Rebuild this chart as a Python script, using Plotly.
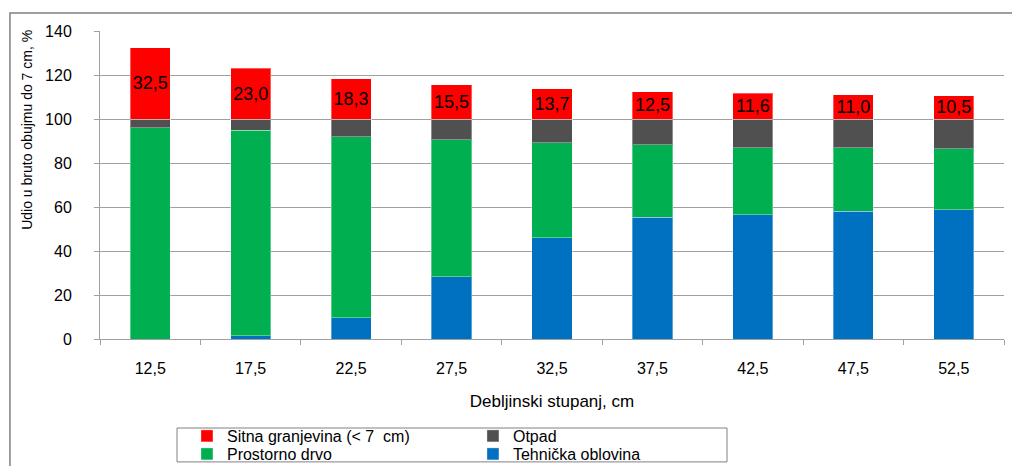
import plotly.graph_objects as go

categories = ["12,5", "17,5", "22,5", "27,5", "32,5", "37,5", "42,5", "47,5", "52,5"]
tehnicka = [0.0, 1.5, 9.7, 28.2, 46.0, 55.3, 56.5, 58.0, 58.8]
prostorno = [96.0, 93.4, 82.3, 62.3, 43.2, 32.9, 30.5, 29.0, 27.6]
otpad = [4.0, 5.1, 8.0, 9.5, 10.8, 11.8, 13.0, 13.0, 13.6]
sitna = [32.5, 23.0, 18.3, 15.5, 13.7, 12.5, 11.6, 11.0, 10.5]
y_ticks = [0, 20, 40, 60, 80, 100, 120, 140]

FONT = "Liberation Sans, Arial, sans-serif"
edge = dict(color="rgba(255,255,255,0.35)", width=1)

fig = go.Figure()
fig.add_trace(go.Bar(x=categories, y=tehnicka, name="Tehnička oblovina",
                     marker=dict(color="#0070C0", line=edge), legend="legend2"))
fig.add_trace(go.Bar(x=categories, y=prostorno, name="Prostorno drvo",
                     marker=dict(color="#00B050", line=edge), legend="legend2"))
fig.add_trace(go.Bar(x=categories, y=otpad, name="Otpad",
                     marker=dict(color="#505050", line=edge), legend="legend"))
fig.add_trace(go.Bar(x=categories, y=sitna, name="Sitna granjevina (< 7  cm)",
                     marker=dict(color="#FF0000", line=edge), legend="legend",
                     text=[f"{v:.1f}".replace(".", ",") for v in sitna],
                     textposition="inside", insidetextanchor="middle",
                     textangle=0, constraintext="none",
                     textfont=dict(family=FONT, size=18, color="black")))

leg_common = dict(orientation="h", xref="paper", x=0.0962, xanchor="left",
                  yref="container", yanchor="middle",
                  traceorder="reversed", entrywidth=241, bgcolor="rgba(0,0,0,0)",
                  font=dict(family=FONT, size=16), itemclick=False)

fig.update_layout(
    barmode="stack",
    bargap=0.6,
    width=1012, height=466,
    margin=dict(l=100, r=8, t=31, b=127),
    paper_bgcolor="white", plot_bgcolor="white",
    font=dict(family=FONT, color="black"),
    showlegend=True,
    legend=dict(leg_common, y=1 - 436 / 466),
    legend2=dict(leg_common, y=1 - 454 / 466),
    shapes=[
        # outer chart frame
        dict(type="rect", xref="paper", yref="paper",
             x0=-0.0996, x1=1.02, y0=-0.45, y1=1.0584,
             line=dict(color="#808080", width=1.5), fillcolor="rgba(0,0,0,0)", layer="below"),
        # legend box
        dict(type="rect", xref="paper", yref="paper",
             x0=0.0852, x1=0.6936, y0=-0.399, y1=-0.289,
             line=dict(color="#808080", width=1), fillcolor="rgba(0,0,0,0)", layer="below"),
    ],
    annotations=[
        dict(text="Udio u bruto obujmu do 7 cm, %", textangle=-90,
             xref="paper", yref="paper", x=-0.0808, y=0.679,
             xanchor="center", yanchor="middle", showarrow=False,
             font=dict(family=FONT, size=14, color="black")),
    ],
)

fig.update_yaxes(
    range=[0, 140], tickvals=y_ticks, ticktext=[str(v) for v in y_ticks],
    automargin=False,
    showgrid=True, gridcolor="#A0A0A0", gridwidth=1,
    showline=True, linecolor="#A0A0A0", linewidth=1,
    ticks="outside", ticklen=5, tickcolor="#A0A0A0",
    ticklabelstandoff=19,
    tickfont=dict(family=FONT, size=16, color="black"),
    zeroline=False,
)
fig.update_xaxes(
    automargin=False,
    showline=True, linecolor="#A0A0A0", linewidth=1,
    ticks="outside", ticklen=5, tickcolor="#A0A0A0", tickson="boundaries",
    ticklabelstandoff=15,
    tickfont=dict(family=FONT, size=16, color="black"),
    title=dict(text="Debljinski stupanj, cm", standoff=18,
               font=dict(family=FONT, size=17, color="black")),
)

fig.write_html("out.html", config={"displayModeBar": False},
               post_script="document.body.style.margin='0px';")
